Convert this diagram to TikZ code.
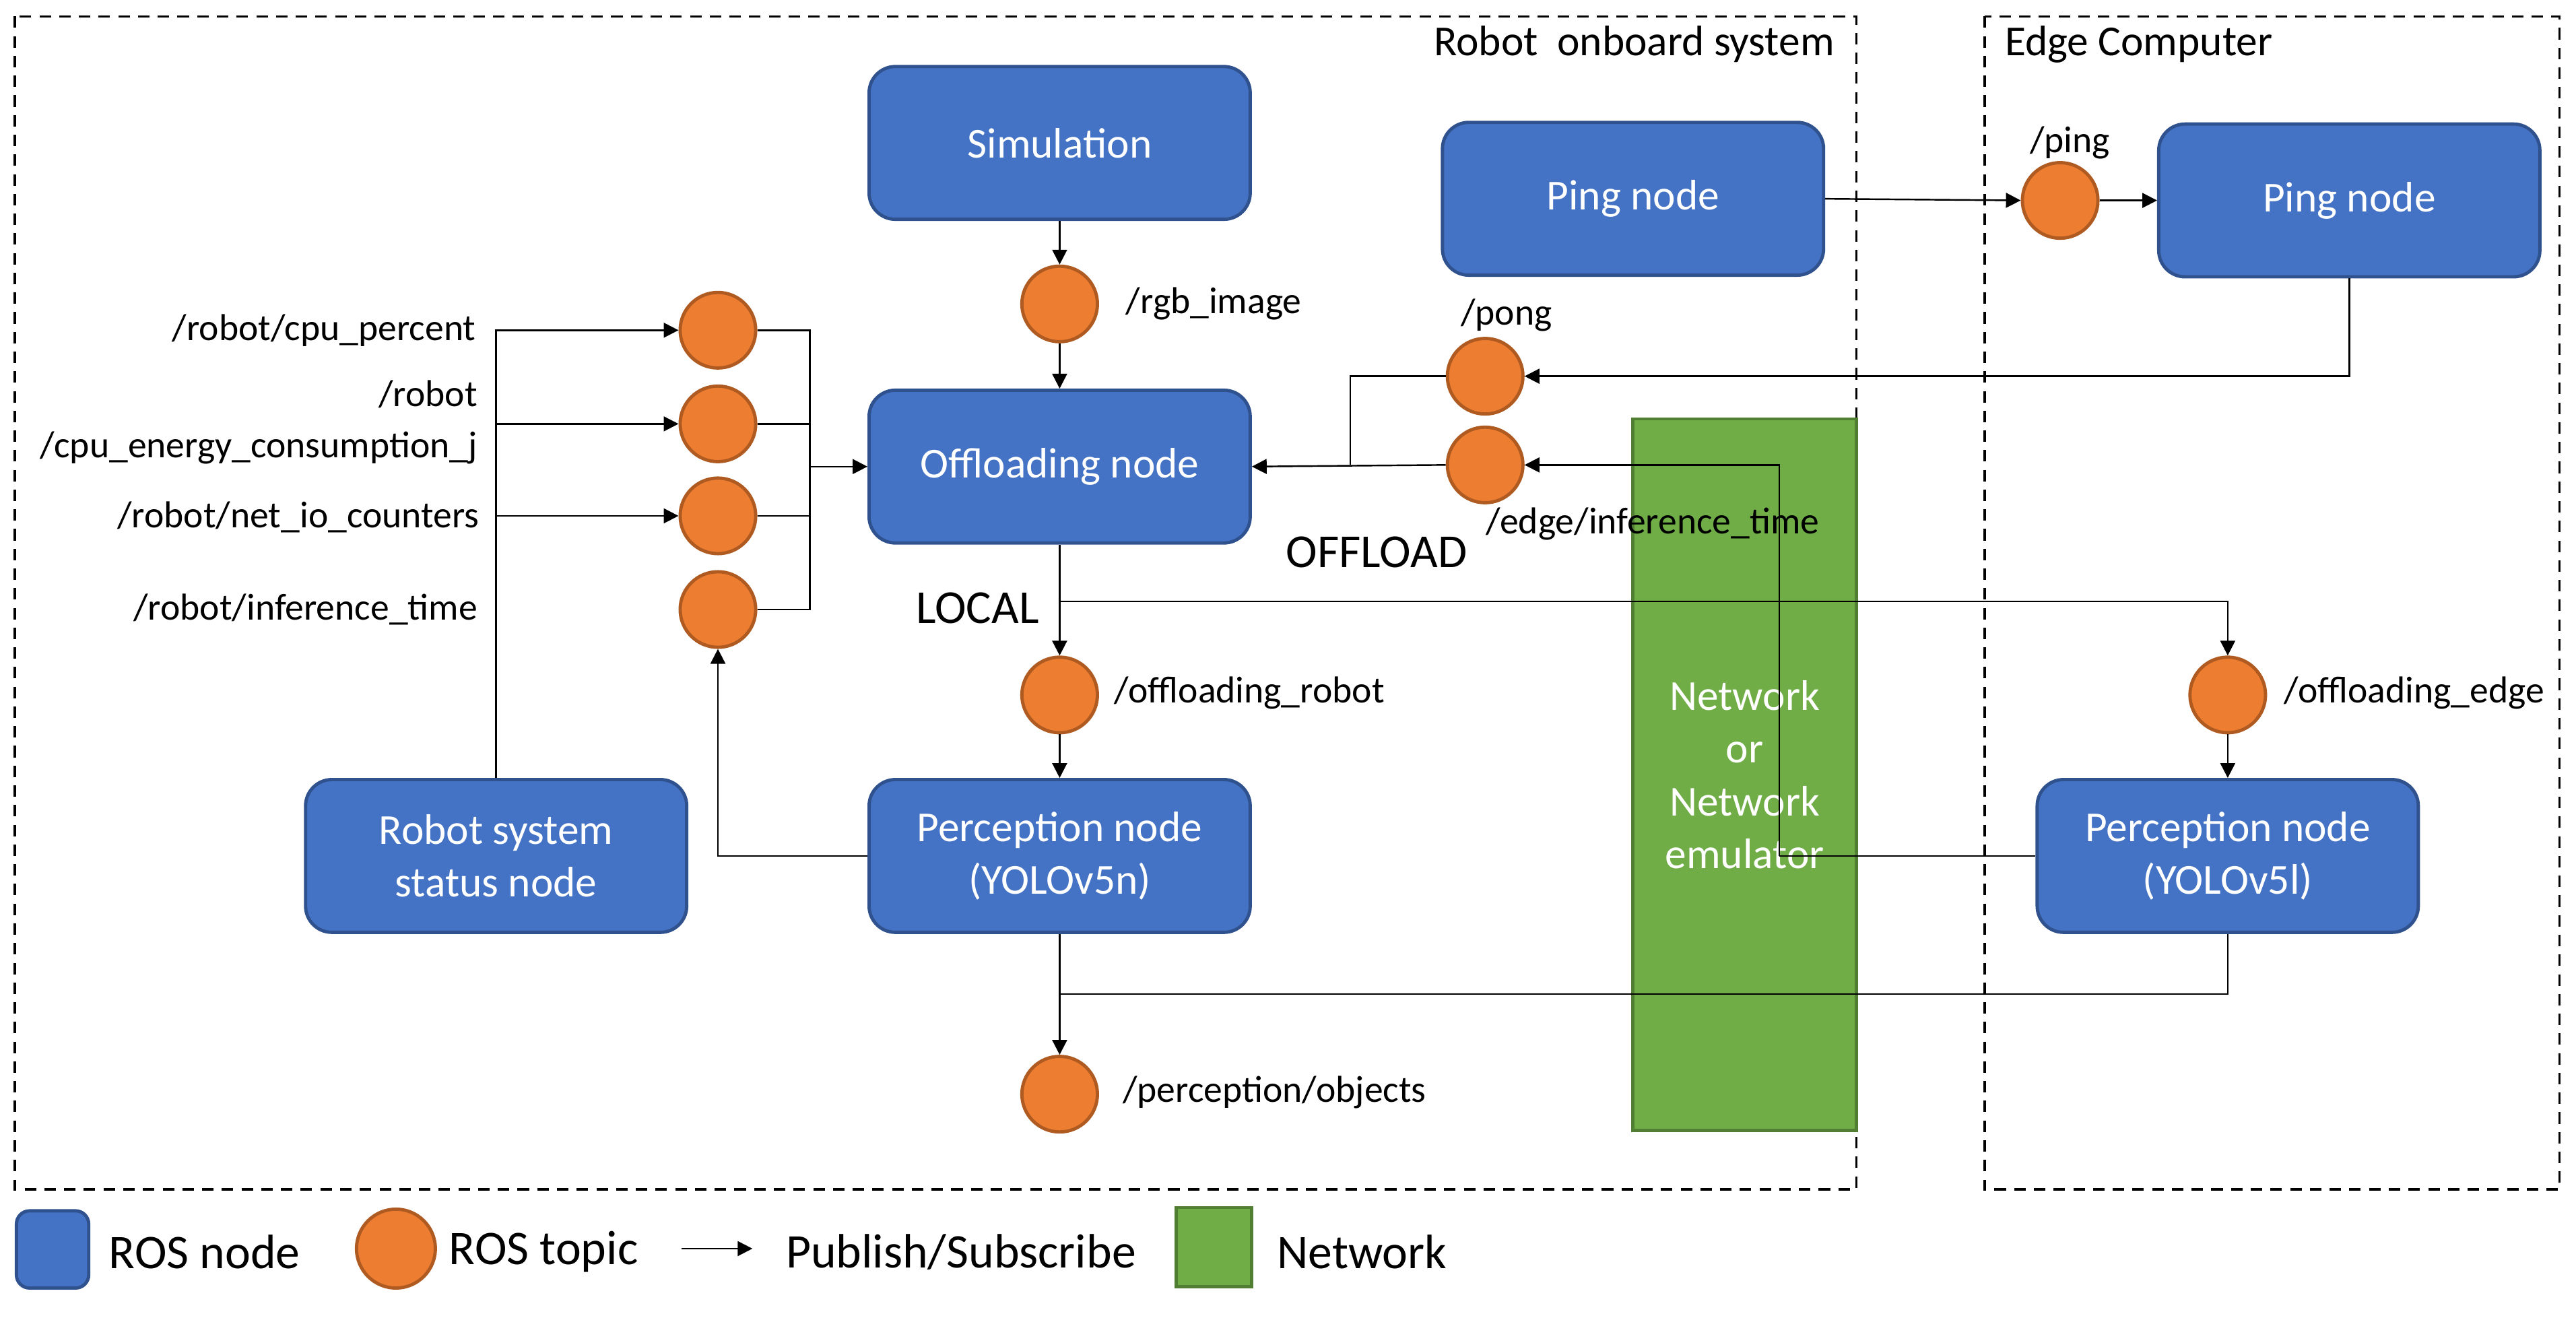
\documentclass[tikz,border=0pt]{standalone}
\usepackage{fontspec}
\setmainfont{Carlito}
\usetikzlibrary{arrows.meta}
\definecolor{nodeblue}{HTML}{4472C4}
\definecolor{nodeedge}{HTML}{2F528F}
\definecolor{topicfill}{HTML}{ED7D31}
\definecolor{topicedge}{HTML}{AE5A21}
\definecolor{netfill}{HTML}{70AD47}
\definecolor{netedge}{HTML}{507E32}
\begin{document}
\begin{tikzpicture}[x=0.5pt,y=-0.5pt,
  rosnode/.style={draw=nodeedge, line width=1pt, fill=nodeblue, rounded corners=8pt,
    minimum width=116pt, minimum height=46.5pt, text=white,
    font=\fontsize{13}{16}\selectfont, align=center, inner sep=0pt},
  topic/.style={circle, draw=topicedge, line width=1pt, fill=topicfill, minimum size=23pt, inner sep=0pt},
  lbl/.style={font=\fontsize{11.4}{15.5}\selectfont, inner sep=0pt},
  big/.style={font=\fontsize{14.4}{17}\selectfont, inner sep=0pt},
  leg/.style={font=\fontsize{14.7}{17}\selectfont, inner sep=0pt, anchor=west},
  ttl/.style={font=\fontsize{13}{16}\selectfont, inner sep=0pt},
  arr/.style={-{Triangle[length=4.5pt,width=4.5pt]}, line width=0.5pt},
  conn/.style={line width=0.5pt},
  regionbox/.style={draw, line width=0.7pt, dash pattern=on 3.5pt off 2.5pt},
  netbox/.style={draw=netedge, line width=1pt, fill=netfill, text=white, align=center,
    font=\fontsize{13}{16}\selectfont, inner sep=0pt}
]
\useasboundingbox (0,0) rectangle (1568,802);

% region boxes
\draw[regionbox] (9,10) rectangle (1130,724);
\draw[regionbox] (1208,10) rectangle (1558,724);
\node[ttl, anchor=east] (ttlrobot) at (1117,27) {Robot~~onboard system};
\node[ttl, anchor=west] (ttledge) at (1220,27) {Edge Computer};

% network
\node[netbox, minimum width=68pt, minimum height=216.5pt] (net) at (1062,471.5)
  {Network\\or\\Network\\emulator};

% ROS nodes
\node[rosnode] (sim) at (645,87) {Simulation};
\node[rosnode] (ping1) at (994,121) {Ping node};
\node[rosnode] (ping2) at (1430,122) {Ping node};
\node[rosnode] (off) at (645,284) {Offloading node};
\node[rosnode] (perc1) at (645,521) {Perception node\\(YOLOv5n)};
\node[rosnode] (stat) at (302,521) {Robot system\\status node};
\node[rosnode] (perc2) at (1356,521) {Perception node\\(YOLOv5l)};

% topics
\node[topic] (t1) at (437,201) {};
\node[topic] (t2) at (437,258) {};
\node[topic] (t3) at (437,314) {};
\node[topic] (t4) at (437,371) {};
\node[topic] (rgb) at (645,185) {};
\node[topic] (pong) at (904,229) {};
\node[topic] (einf) at (904,283) {};
\node[topic] (offrob) at (645,423) {};
\node[topic] (offedge) at (1356,423) {};
\node[topic] (objs) at (645,666) {};
\node[topic] (ping) at (1254,122) {};

% topic labels
\node[lbl, anchor=east] (l1) at (290,201) {/robot/cpu\_percent};
\node[lbl, anchor=east, align=right] (l2) at (291,257) {/robot\\/cpu\_energy\_consumption\_j};
\node[lbl, anchor=east] (l3) at (292,315) {/robot/net\_io\_counters};
\node[lbl, anchor=east] (l4) at (291,371) {/robot/inference\_time};
\node[lbl, anchor=west] (lrgb) at (685,185) {/rgb\_image};
\node[lbl] (lpong) at (917,192) {/pong};
\node[lbl] (leinf) at (1006,319) {/edge/inference\_time};
\node[lbl, anchor=west] (loffrob) at (678,422) {/offloading\_robot};
\node[lbl, anchor=west] (loffedge) at (1390,422) {/offloading\_edge};
\node[lbl, anchor=west] (lobjs) at (683,665) {/perception/objects};
\node[lbl] (lping) at (1260,87) {/ping};
\node[big] (loffload) at (838,336) {OFFLOAD};
\node[big] (llocal) at (595,370) {LOCAL};

% junction coordinates
\coordinate (bus) at (493,284);
\coordinate (pj) at (822,283);
\coordinate (split) at (645,366);
\coordinate (ej) at (1083,521);
\coordinate (mj) at (645,605);

% connectors
\draw[arr] (stat.north) |- (t1.west);
\draw[arr] (stat.north) |- (t2.west);
\draw[arr] (stat.north) |- (t3.west);
\draw[conn] (t1.east) -| (bus);
\draw[conn] (t2.east) -| (bus);
\draw[conn] (t3.east) -| (bus);
\draw[conn] (t4.east) -| (bus);
\draw[arr] (bus) -- (off.west);
\draw[arr] (perc1.west) -| (t4.south);
\draw[arr] (sim.south) -- (rgb.north);
\draw[arr] (rgb.south) -- (off.north);
\draw[arr] (ping1.east) -- (ping.west);
\draw[arr] (ping.east) -- (ping2.west);
\draw[arr] (ping2.south) |- (pong.east);
\draw[conn] (pong.west) -| (pj);
\draw[arr] (einf.west) -- (off.east);
\draw[conn] (perc2.west) -- (ej);
\draw[arr] (ej) |- (einf.east);
\draw[arr] (off.south) -- (offrob.north);
\draw[arr] (split) -| (offedge.north);
\draw[arr] (offrob.south) -- (perc1.north);
\draw[arr] (offedge.south) -- (perc2.north);
\draw[arr] (perc1.south) -- (objs.north);
\draw[conn] (perc2.south) |- (mj);

% legend
\node[rosnode, minimum width=22pt, minimum height=23.5pt, rounded corners=4pt] (lgnode) at (32,760.5) {};
\node[leg] (lgnodet) at (66,762) {ROS node};
\node[topic, minimum size=24pt] (lgtopic) at (241,760) {};
\node[leg] (lgtopict) at (273,762) {ROS topic};
\coordinate (la1) at (415,760);
\coordinate (la2) at (458,760);
\draw[arr] (la1) -- (la2);
\node[leg] (lgarrt) at (478,762) {Publish/Subscribe};
\node[netbox, minimum width=23pt, minimum height=24pt] (lgnet) at (739,759) {};
\node[leg] (lgnett) at (777,762) {Network};
\end{tikzpicture}
\end{document}
